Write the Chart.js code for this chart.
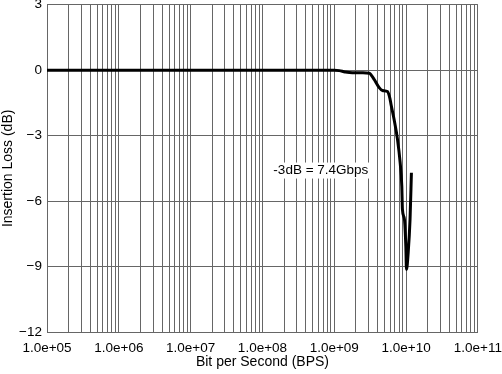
<!DOCTYPE html>
<html>
<head>
<meta charset="utf-8">
<script src="https://cdn.jsdelivr.net/npm/chart.js@4.4.1/dist/chart.umd.min.js"></script>
<style>
  html, body { margin: 0; padding: 0; background: #fff; }
  #wrap { width: 502px; height: 374px; }
</style>
</head>
<body>
<div id="wrap"><canvas id="lossChart" width="502" height="374"></canvas></div>
<script>
// bit rate (BPS) and insertion loss (dB)
const bitRate = [1e5, 1e6, 1e7, 1e8, 1e9, 1.175e9, 1.41e9, 1.78e9, 2.51e9, 3.09e9, 3.31e9,
  3.6e9, 4.22e9, 4.68e9, 5.5e9, 5.96e9, 6.17e9, 6.81e9, 7.59e9, 8.26e9, 8.71e9, 8.89e9,
  9.48e9, 9.91e9, 1.012e10, 1.07e10, 1.135e10, 1.186e10];
const insertionLoss = [0, 0, 0, 0, 0, -0.02, -0.08, -0.12, -0.12, -0.14, -0.25,
  -0.43, -0.8, -0.93, -0.98, -1.3, -1.57, -2.26, -3.17, -4.23, -5.3, -6.38,
  -6.84, -8.06, -9.13, -8.35, -6.84, -4.7];

const xTickLabels = ["1.0e+05", "1.0e+06", "1.0e+07", "1.0e+08", "1.0e+09", "1.0e+10", "1.0e+11"];
const yTicks = [-12, -9, -6, -3, 0, 3];
const noteText = "-3dB = 7.4Gbps";
const notePos = [6.5e8, -4.6];

const gridColor = "#666";
const fontFamily = "'Liberation Sans', Arial, sans-serif";

// one grid line at every 1..9 x 10^n
const xGrid = [];
for (let e = 5; e < 11; e++) {
  for (let m = 1; m < 10; m++) xGrid.push(m * Math.pow(10, e));
}
xGrid.push(1e11);

const notePlugin = {
  id: "note",
  afterDatasetsDraw(chart) {
    const ctx = chart.ctx;
    const x = chart.scales.x.getPixelForValue(notePos[0]);
    const y = chart.scales.y.getPixelForValue(notePos[1]);
    ctx.save();
    ctx.fillStyle = "#fff";
    ctx.font = "13.5px " + fontFamily;
    const w = ctx.measureText(noteText).width;
    ctx.fillRect(x - w / 2 - 2, y - 8, w + 4, 16);
    ctx.fillStyle = "#000";
    ctx.textAlign = "center";
    ctx.textBaseline = "middle";
    ctx.fillText(noteText, x, y);
    ctx.restore();
  }
};

new Chart(document.getElementById("lossChart"), {
  type: "line",
  data: {
    labels: bitRate,
    datasets: [{
      data: bitRate.map((b, i) => ({ x: b, y: insertionLoss[i] })),
      borderColor: "#000",
      borderWidth: 3,
      pointRadius: 0,
      cubicInterpolationMode: "monotone",
      fill: false
    }]
  },
  options: {
    responsive: false,
    animation: false,
    layout: { padding: 0 },
    plugins: {
      legend: { display: false },
      tooltip: { enabled: false }
    },
    scales: {
      x: {
        type: "logarithmic",
        min: 1e5,
        max: 1e11,
        afterBuildTicks: scale => {
          scale.ticks = xGrid.map(v => ({ value: v }));
        },
        afterFit: scale => { scale.height = 42; },
        // invisible tick marks push the labels down without widening the side padding
        grid: { color: gridColor, lineWidth: 1, drawTicks: true, tickLength: 8, tickColor: "rgba(0,0,0,0)" },
        border: { color: gridColor },
        ticks: {
          autoSkip: false,
          maxRotation: 0,
          padding: 0,
          color: "#000",
          font: { family: fontFamily, size: 13.5 },
          callback: v => {
            const e = Math.log10(v);
            return Math.abs(e - Math.round(e)) < 1e-9 ? xTickLabels[Math.round(e) - 5] : "";
          }
        },
        title: {
          display: true,
          text: "Bit per Second (BPS)",
          color: "#000",
          padding: { top: 3, bottom: 3 },
          font: { family: fontFamily, size: 14 }
        }
      },
      y: {
        min: -12,
        max: 3,
        afterBuildTicks: scale => {
          scale.ticks = yTicks.map(v => ({ value: v }));
        },
        afterFit: scale => { scale.width = 47; },
        grid: { color: gridColor, lineWidth: 1, drawTicks: true, tickLength: 5, tickColor: "rgba(0,0,0,0)" },
        border: { color: gridColor },
        ticks: {
          padding: 0,
          color: "#000",
          font: { family: fontFamily, size: 13.5, lineHeight: 0.7 },
          callback: v => (v < 0 ? "\u2212" + Math.abs(v) : String(v))
        },
        title: {
          display: true,
          text: "Insertion Loss (dB)",
          color: "#000",
          padding: { top: 0, bottom: 0 },
          font: { family: fontFamily, size: 14 }
        }
      }
    }
  },
  plugins: [notePlugin]
});
</script>
</body>
</html>
